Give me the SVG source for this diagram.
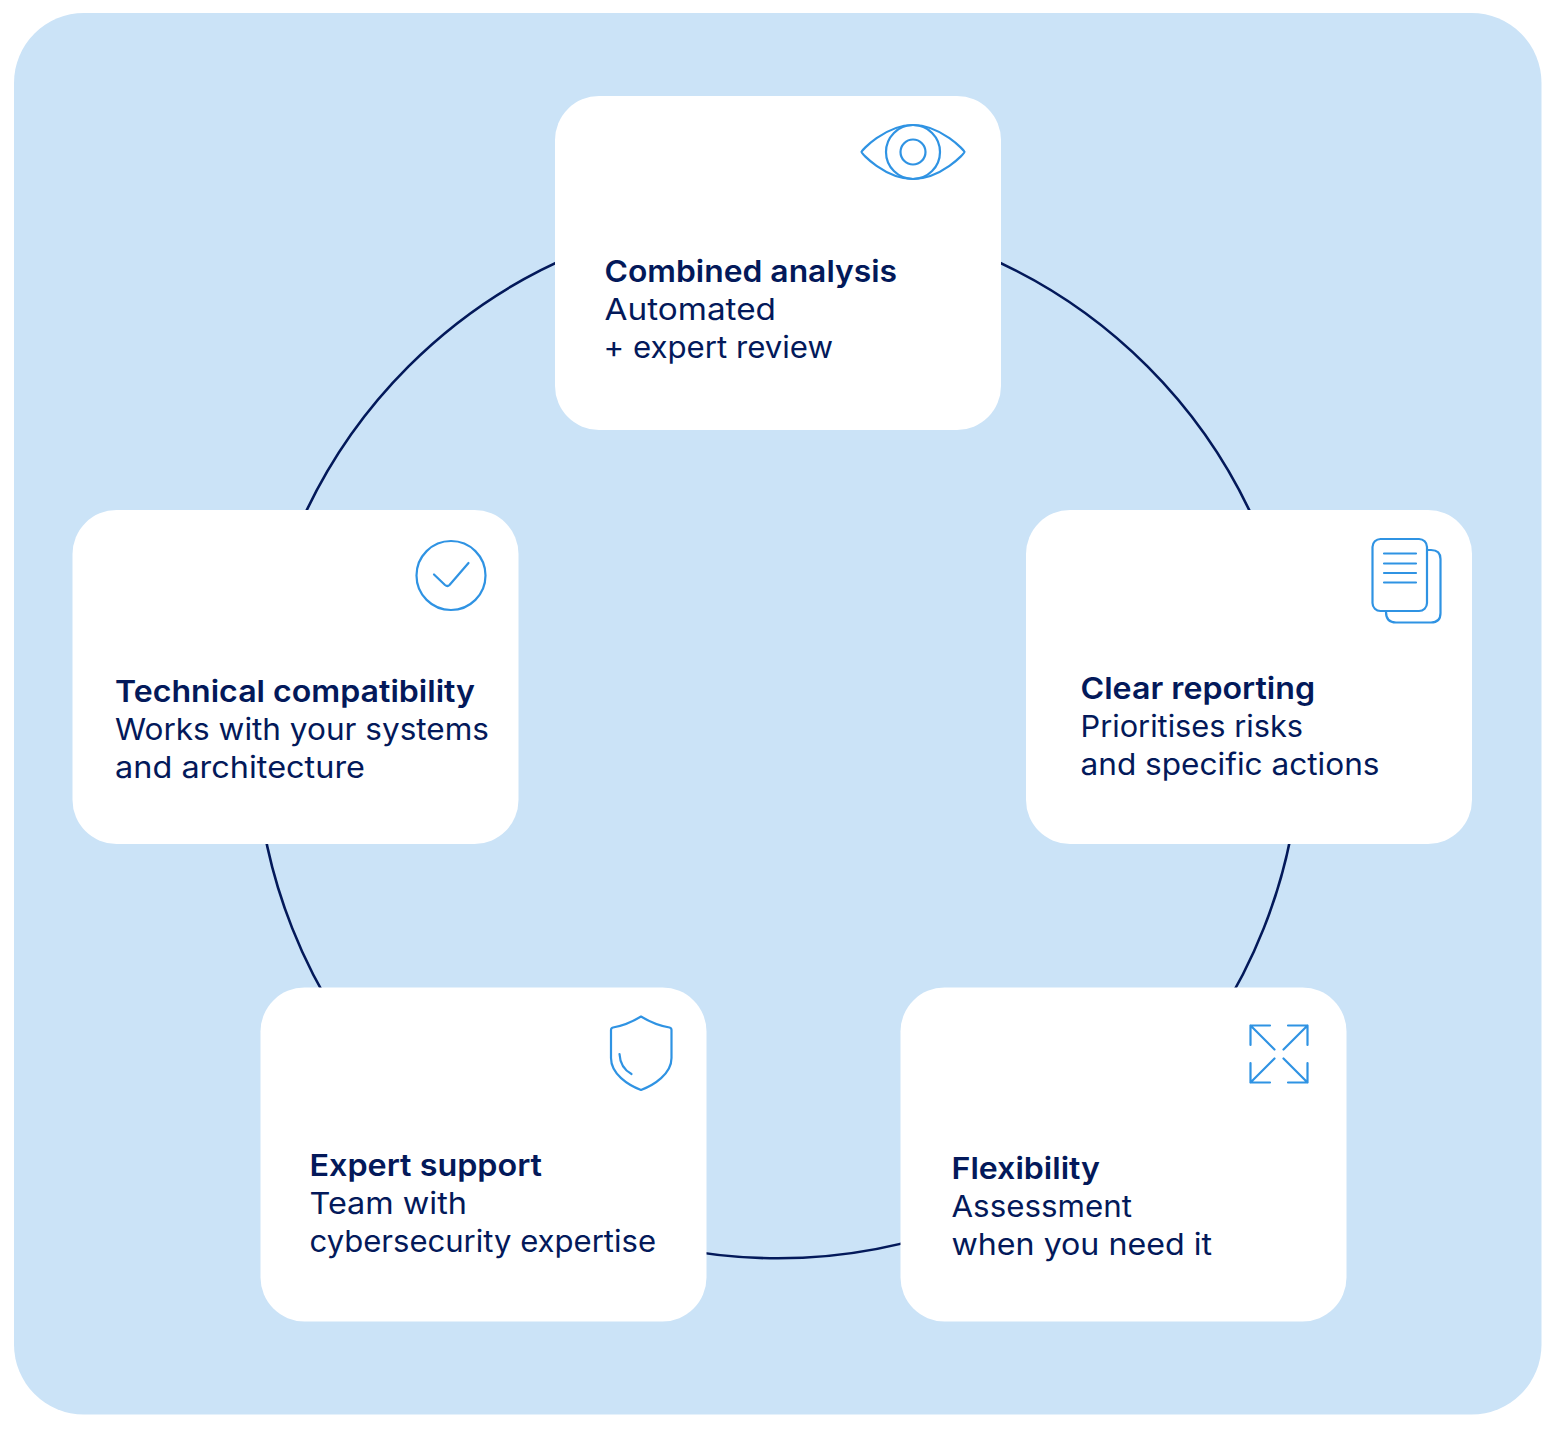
<svg xmlns="http://www.w3.org/2000/svg" width="1556" height="1429" viewBox="0 0 1556 1429">
<style>
.card{fill:#fff}
.ic{fill:none;stroke:#2f93e3;stroke-width:2.200;stroke-linecap:round;stroke-linejoin:round}
.t{font-family:"Inter","Noto Sans",sans-serif;font-size:30px;fill:#03195a;font-weight:400}
.b{font-weight:600}
</style>
<rect x="0" y="0" width="1556" height="1429" fill="#fff"/>
<rect x="14" y="13" width="1527.500" height="1401.500" rx="70" fill="#cbe3f7"/>
<g id="connectors"><circle cx="778" cy="735.800" r="522.500" fill="none" stroke="#03195a" stroke-width="2.600"/></g>
<g id="node-combined-analysis">
<rect class="card" x="555" y="96" width="446" height="334" rx="44"/>
<path class="ic" d="M861.500 152C861 151 885 125 913 125C941 125 965 151 964.500 152C965 153 941 179 913 179C885 179 861 153 861.500 152Z"/>
<circle class="ic" cx="913" cy="152" r="27"/><circle class="ic" cx="913" cy="152" r="12.500"/>
<text class="t b" x="604.500" y="281.500" textLength="292.500" lengthAdjust="spacingAndGlyphs">Combined analysis</text>
<text class="t" x="604.500" y="319.500" textLength="171.500" lengthAdjust="spacingAndGlyphs">Automated</text>
<text class="t" x="603.500" y="357.500" textLength="229.500" lengthAdjust="spacingAndGlyphs">+ expert review</text>
</g>
<g id="node-clear-reporting">
<rect class="card" x="1026" y="510" width="446" height="334" rx="44"/>
<path class="ic" d="M1427 550H1431Q1440.500 550 1440.500 559V613Q1440.500 622.500 1431 622.500H1396Q1386 622.500 1386 612"/>
<rect class="ic" x="1372.500" y="539" width="54.500" height="72" rx="8"/>
<path class="ic" d="M1384 553.500H1416M1384 563.500H1416M1384 573H1416M1384 582.500H1416"/>
<text class="t b" x="1080.500" y="698.500" textLength="234.500" lengthAdjust="spacingAndGlyphs">Clear reporting</text>
<text class="t" x="1080.500" y="736.500" textLength="222.500" lengthAdjust="spacingAndGlyphs">Prioritises risks</text>
<text class="t" x="1080.500" y="774.500" textLength="299" lengthAdjust="spacingAndGlyphs">and specific actions</text>
</g>
<g id="node-flexibility">
<rect class="card" x="900.500" y="987.500" width="446" height="334" rx="44"/>
<path class="ic" d="M1250.500 1045V1025.500H1270M1250.500 1025.500L1274.500 1049.500M1288 1025.500H1307.500V1045M1307.500 1025.500L1283.500 1049.500M1250.500 1063V1082.500H1270M1250.500 1082.500L1274.500 1058.500M1307.500 1063V1082.500H1288M1307.500 1082.500L1283.500 1058.500"/>
<text class="t b" x="951.500" y="1178.500" textLength="148.500" lengthAdjust="spacingAndGlyphs">Flexibility</text>
<text class="t" x="951.500" y="1216.500" textLength="180.500" lengthAdjust="spacingAndGlyphs">Assessment</text>
<text class="t" x="951.500" y="1254.500" textLength="260.500" lengthAdjust="spacingAndGlyphs">when you need it</text>
</g>
<g id="node-expert-support">
<rect class="card" x="260.500" y="987.500" width="446" height="334" rx="44"/>
<path class="ic" d="M641 1016.500Q627 1025 613 1027.500Q611 1028 611 1030V1058C611 1074 628 1085 641 1090C654 1085 671.500 1074 671.500 1058V1030Q671.500 1028 669.500 1027.500Q655 1025 641 1016.500Z"/>
<path class="ic" d="M619.500 1054C620 1063 624 1070 631.500 1074"/>
<text class="t b" x="309.500" y="1175.500" textLength="232.500" lengthAdjust="spacingAndGlyphs">Expert support</text>
<text class="t" x="309.500" y="1213.500" textLength="157.500" lengthAdjust="spacingAndGlyphs">Team with</text>
<text class="t" x="309.500" y="1251.500" textLength="346.500" lengthAdjust="spacingAndGlyphs">cybersecurity expertise</text>
</g>
<g id="node-technical-compatibility">
<rect class="card" x="72.500" y="510" width="446" height="334" rx="44"/>
<circle class="ic" cx="451" cy="575.500" r="34.500"/>
<path class="ic" d="M434 574.500L445 585Q447.500 587 449.500 585L468.500 563"/>
<text class="t b" x="115" y="701.500" textLength="360" lengthAdjust="spacingAndGlyphs">Technical compatibility</text>
<text class="t" x="115" y="739.500" textLength="374" lengthAdjust="spacingAndGlyphs">Works with your systems</text>
<text class="t" x="115" y="777.500" textLength="250" lengthAdjust="spacingAndGlyphs">and architecture</text>
</g>
</svg>
